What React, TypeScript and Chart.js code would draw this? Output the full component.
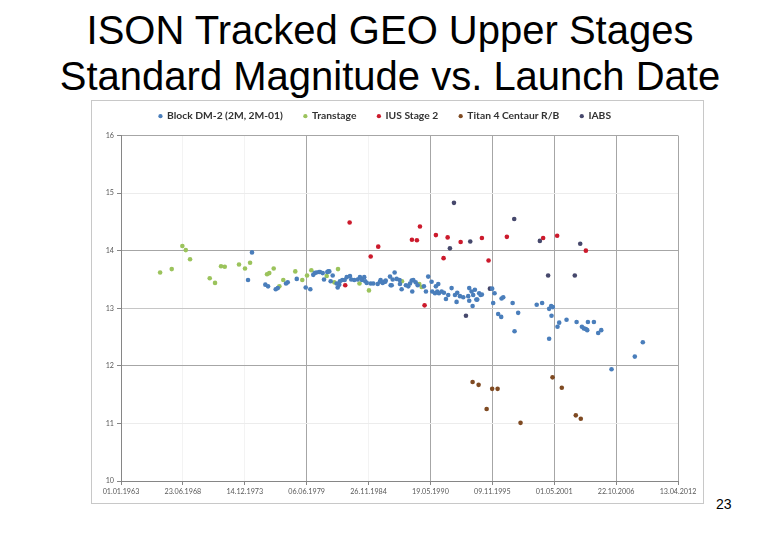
import React, { useEffect, useRef } from "react";
import { Chart, registerables } from "chart.js";

Chart.register(...registerables);

// ---- Data (launch date as decimal year, standard magnitude) ----
const dm2Years = [
  1974.24, 1974.59, 1975.77, 1976.01, 1976.69, 1976.87, 1977.6, 1977.75, 1978.55, 1979.34,
  1979.75, 1980.01, 1980.14, 1980.28, 1980.52, 1980.61, 1980.85, 1980.96, 1981.25, 1981.34,
  1981.43, 1981.55, 1981.73, 1982.08, 1982.17, 1982.31, 1982.37, 1982.58, 1982.79, 1982.97,
  1983.26, 1983.37, 1983.64, 1983.94, 1984.14, 1984.32, 1984.52, 1984.61, 1984.74, 1985.09,
  1985.32, 1985.71, 1985.91, 1985.97, 1986.15, 1986.27, 1986.38, 1986.42, 1986.8, 1986.86,
  1986.95, 1987.04, 1987.21, 1987.39, 1987.65, 1987.68, 1987.83, 1988.21, 1988.42, 1988.57,
  1988.72, 1988.77, 1988.86, 1989.07, 1989.25, 1989.8, 1989.98, 1990.18, 1990.48, 1990.54,
  1990.78, 1990.86, 1990.98, 1991.07, 1991.13, 1991.37, 1991.57, 1991.75, 1991.95, 1992.25,
  1992.55, 1992.69, 1992.75, 1992.99, 1993.28, 1993.72, 1993.81, 1993.81, 1994.02, 1994.11,
  1994.16, 1994.31, 1994.44, 1994.52, 1994.69, 1994.82, 1994.93, 1995.84, 1995.93, 1996.05,
  1996.37, 1996.64, 1996.67, 1996.82, 1997.65, 1997.82, 1998.14, 1999.78, 2000.26, 2000.88,
  2000.88, 2001.06, 2001.09, 2001.21, 2001.62, 2001.77, 2002.42, 2003.31, 2003.78, 2003.95,
  2004.13, 2004.25, 2004.31, 2004.84, 2005.22, 2005.49, 2006.4, 2008.46, 2009.17,
];
const dm2Mags = [
  13.49, 13.97, 13.41, 13.38, 13.33, 13.35, 13.43, 13.45, 13.51, 13.36,
  13.33, 13.58, 13.61, 13.62, 13.63, 13.63, 13.61, 13.5, 13.63, 13.64,
  13.64, 13.47, 13.57, 13.43, 13.36, 13.41, 13.47, 13.49, 13.49, 13.54,
  13.56, 13.5, 13.49, 13.5, 13.54, 13.49, 13.54, 13.47, 13.44, 13.43,
  13.43, 13.42, 13.46, 13.49, 13.44, 13.46, 13.46, 13.48, 13.55, 13.4,
  13.4, 13.5, 13.62, 13.51, 13.49, 13.42, 13.33, 13.4, 13.38, 13.43,
  13.48, 13.29, 13.49, 13.45, 13.4, 13.38, 13.29, 13.55, 13.46, 13.29,
  13.26, 13.38, 13.29, 13.42, 13.26, 13.29, 13.27, 13.16, 13.23, 13.35,
  13.23, 13.11, 13.27, 13.21, 13.19, 13.21, 13.35, 13.13, 13.29, 13.04,
  13.23, 13.32, 13.15, 13.15, 13.26, 13.23, 13.24, 13.34, 13.09, 13.26,
  12.9, 12.85, 13.17, 13.19, 13.09, 12.6, 12.92, 13.06, 13.09, 12.99,
  12.47, 13.04, 12.87, 13.02, 12.68, 12.75, 12.8, 12.76, 12.68, 12.65,
  12.64, 12.62, 12.76, 12.76, 12.57, 12.62, 11.94, 12.16, 12.41,
];

const transtageYears = [
  1966.46, 1967.49, 1968.43, 1968.73, 1969.11, 1970.85, 1971.32, 1971.85, 1972.18, 1973.44,
  1973.97, 1974.42, 1975.92, 1976.12, 1976.51, 1977.01, 1977.36, 1978.42, 1979.04, 1979.46,
  1979.84, 1981.2, 1981.87, 1982.2, 1984.1, 1984.94, 1987.86, 1989.39, 1989.6,
];
const transtageMags = [
  13.62, 13.68, 14.08, 14.01, 13.85, 13.52, 13.44, 13.73, 13.72, 13.76,
  13.69, 13.79, 13.59, 13.61, 13.69, 13.38, 13.49, 13.64, 13.49, 13.57,
  13.66, 13.56, 13.45, 13.68, 13.43, 13.31, 13.47, 13.42, 13.37,
];

const iusYears = [
  1982.84, 1983.23, 1985.09, 1985.76, 1988.74, 1989.18, 1989.45, 1989.86, 1990.86, 1991.54,
  1991.9, 1993.05, 1994.93, 1995.52, 1997.14, 2000.35, 2001.59, 2004.13,
];
const iusMags = [
  13.4, 14.49, 13.9, 14.07, 14.19, 14.18, 14.42, 13.05, 14.27, 13.87,
  14.23, 14.15, 14.22, 13.83, 14.24, 14.22, 14.26, 14.0,
];

const titanYears = [1994.11, 1994.64, 1995.35, 1995.84, 1996.32, 1998.35, 2001.18, 2002.0, 2003.24, 2003.68];
const titanMags = [11.72, 11.67, 11.25, 11.6, 11.6, 11.01, 11.8, 11.62, 11.14, 11.08];

const iabsYears = [1992.1, 1992.46, 1993.52, 1993.9, 1995.64, 1997.79, 2000.06, 2000.79, 2003.15, 2003.63];
const iabsMags = [14.04, 14.83, 12.87, 14.16, 13.34, 14.55, 14.17, 13.57, 13.57, 14.12];

const seriesNames = ["Block DM-2 (2M, 2M-01)", "Transtage", "IUS Stage 2", "Titan 4 Centaur R/B", "IABS"];
const seriesColors = ["#4A7EBB", "#9BC35C", "#CC1A2C", "#7F4A22", "#46486C"];

// x axis: days since 01.01.1963, ticks every 2000 days
const X_MIN = 0;
const X_MAX = 18000;
const X_STEP = 2000;
const Y_MIN = 10;
const Y_MAX = 16;

const EPOCH = Date.UTC(1963, 0, 1);
const DAY_MS = 86400000;
const yearToDays = (y: number) => (y - 1963) * 365.25;
const pad2 = (n: number) => (n < 10 ? "0" + n : "" + n);
const fmtDate = (days: number) => {
  const d = new Date(EPOCH + Math.round(days) * DAY_MS);
  return pad2(d.getUTCDate()) + "." + pad2(d.getUTCMonth() + 1) + "." + d.getUTCFullYear();
};
const toPoints = (xs: number[], ys: number[]) => xs.map((x, i) => ({ x: yearToDays(x), y: ys[i] }));

const legendSpacer = {
  id: "legendSpacer",
  beforeInit(chart: any) {
    const orig = chart.legend.fit;
    chart.legend.fit = function () {
      orig.call(this);
      this.height += 4.2;
    };
  },
};

export default function App() {
  const ref = useRef<HTMLCanvasElement | null>(null);

  useEffect(() => {
    if (!ref.current) return;
    const all = [
      toPoints(dm2Years, dm2Mags),
      toPoints(transtageYears, transtageMags),
      toPoints(iusYears, iusMags),
      toPoints(titanYears, titanMags),
      toPoints(iabsYears, iabsMags),
    ];
    const chart = new Chart(ref.current, {
      type: "scatter",
      data: {
        datasets: all.map((pts, i) => ({
          label: seriesNames[i],
          data: pts,
          backgroundColor: seriesColors[i],
          borderColor: seriesColors[i],
          borderWidth: 0,
          pointRadius: 2.3,
          pointBorderWidth: 0,
          showLine: false,
        })),
      },
      options: {
        animation: false,
        responsive: false,
        maintainAspectRatio: false,
        layout: { padding: { top: 0, right: 25, bottom: 0, left: 0 } },
        plugins: {
          tooltip: { enabled: false },
          legend: {
            display: true,
            position: "top",
            labels: {
              usePointStyle: true,
              pointStyle: "circle",
              boxWidth: 3,
              boxHeight: 3,
              padding: 21,
              color: "#333333",
              font: { family: "Lato", size: 10.3, weight: "bold" },
            },
          },
        },
        scales: {
          x: {
            type: "linear",
            min: X_MIN,
            max: X_MAX,
            afterFit: (s: any) => {
              s.height = 22;
            },
            ticks: {
              stepSize: X_STEP,
              autoSkip: false,
              maxRotation: 0,
              padding: 2,
              color: "#595959",
              font: { family: "Lato", size: 7.2 },
              callback: (v: any) => fmtDate(Number(v)),
            },
            grid: {
              color: (ctx: any) => {
                const v = ctx.tick ? ctx.tick.value : 0;
                if (v === 0) return "rgba(0,0,0,0)";
                if (v === 2000 || v === 4000 || v === 8000) return "#f3f3f3";
                return "#a6a6a6";
              },
              tickColor: "#868686",
              tickLength: 4,
            },
            border: { color: "#868686", width: 1 },
          },
          y: {
            type: "linear",
            min: Y_MIN,
            max: Y_MAX,
            afterFit: (s: any) => {
              s.width = 29;
            },
            ticks: {
              stepSize: 1,
              padding: 3,
              color: "#595959",
              font: { family: "Lato", size: 7.2 },
            },
            grid: {
              color: (ctx: any) => {
                const v = ctx.tick ? ctx.tick.value : 0;
                if (v === 10) return "rgba(0,0,0,0)";
                if (v === 15 || v === 11) return "#ececec";
                if (v === 13) return "#c6c6c6";
                return "#a6a6a6";
              },
              tickColor: "#868686",
              tickLength: 4,
            },
            border: { color: "#868686", width: 1 },
          },
        },
      },
      plugins: [legendSpacer],
    } as any);
    return () => chart.destroy();
  }, []);

  return (
    <div
      style={{
        position: "absolute",
        left: 0,
        top: 0,
        width: 780,
        height: 540,
        background: "#ffffff",
        overflow: "hidden",
        fontFamily: "'Liberation Sans', Arial, sans-serif",
      }}
    >
      <div
        style={{
          position: "absolute",
          left: 0,
          top: 7,
          width: 780,
          textAlign: "center",
          fontSize: 40,
          lineHeight: "46px",
          color: "#000000",
        }}
      >
        <div>ISON Tracked GEO Upper Stages</div>
        <div>Standard Magnitude vs. Launch Date</div>
      </div>
      <div
        style={{
          position: "absolute",
          left: 91,
          top: 100,
          width: 613,
          height: 404,
          boxSizing: "border-box",
          border: "1px solid #c8c8c8",
        }}
      />
      <canvas
        ref={ref}
        width={611}
        height={413}
        style={{ position: "absolute", left: 92, top: 90, width: 611, height: 413 }}
      />
      <div
        style={{
          position: "absolute",
          left: 716,
          top: 496,
          fontSize: 14,
          color: "#000000",
        }}
      >
        23
      </div>
    </div>
  );
}
